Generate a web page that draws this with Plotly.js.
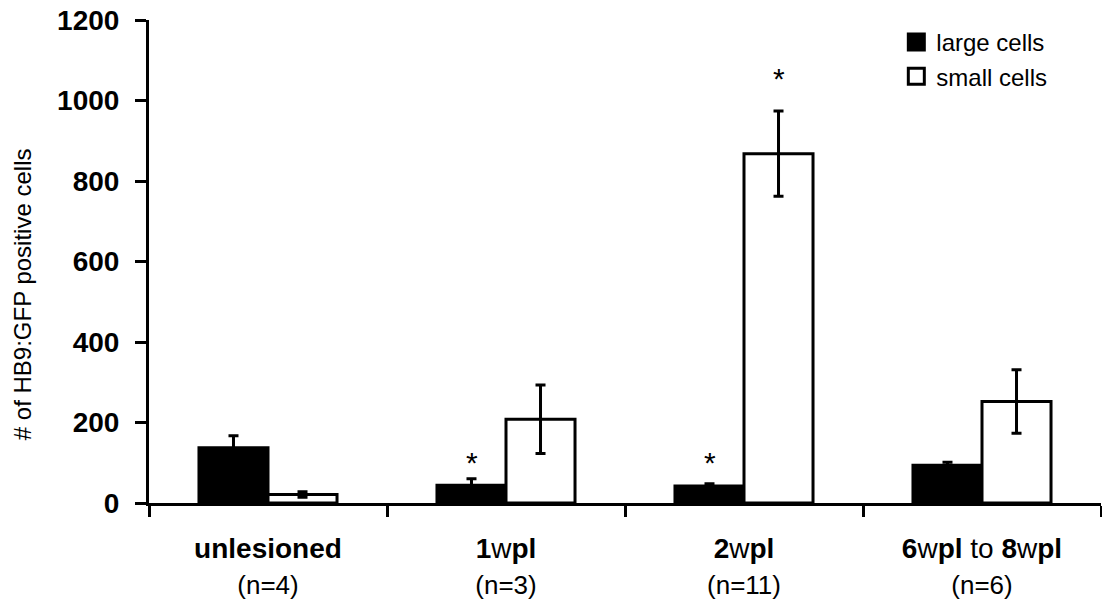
<!DOCTYPE html>
<html>
<head>
<meta charset="utf-8">
<script src="https://cdn.plot.ly/plotly-3.0.1.min.js"></script>
<style>html,body{margin:0;padding:0;background:#fff;}#chart{width:1102px;height:599px;}</style>
</head>
<body>
<div id="chart"></div>
<script>
// Data
const categories = ["unlesioned", "1wpl", "2wpl", "6wpl to 8wpl"];
const tickLabels = [
  "<b>unlesioned</b><br><span style='font-size:26px'>(n=4)</span>",
  "<b>1</b>w<b>pl</b><br><span style='font-size:26px'>(n=3)</span>",
  "<b>2</b>w<b>pl</b><br><span style='font-size:26px'>(n=11)</span>",
  "<b>6</b>w<b>pl</b> to <b>8</b>w<b>pl</b><br><span style='font-size:26px'>(n=6)</span>"
];
const yTickVals = [0, 200, 400, 600, 800, 1000, 1200];
const yTickText = ["<b>0</b>", "<b>200</b>", "<b>400</b>", "<b>600</b>", "<b>800</b>", "<b>1000</b>", "<b>1200</b>"];
const seriesNames = ["large cells", "small cells"];
const largeCells = [137, 44, 42, 94];
const largeErr = [30, 16, 6, 7];
const smallCells = [21, 208, 868, 252];
const smallErr = [7, 85, 106, 79];
// asterisk positions (value units), null = none
const starLarge = [null, 119, 117, null];
const starSmall = [null, null, 1071, null];

const FONT = "Arial, 'Liberation Sans', sans-serif";

const traces = [
  {
    type: "bar", name: seriesNames[0], x: categories, y: largeCells, showlegend: false,
    marker: {color: "#000", line: {color: "#000", width: 3}},
    error_y: {type: "data", array: largeErr, visible: true, color: "#000", thickness: 3, width: 5}
  },
  {
    type: "bar", name: seriesNames[1], x: categories, y: smallCells, showlegend: false,
    marker: {color: "#fff", line: {color: "#000", width: 3}},
    error_y: {type: "data", array: smallErr, visible: true, color: "#000", thickness: 3, width: 5}
  },
  // legend entries (square swatches, no drawn points)
  {
    type: "scatter", mode: "markers", name: seriesNames[0], x: [categories[0]], y: [null], hoverinfo: "skip",
    marker: {symbol: "square", size: 18, color: "#000", line: {color: "#000", width: 3}}
  },
  {
    type: "scatter", mode: "markers", name: seriesNames[1], x: [categories[0]], y: [null], hoverinfo: "skip",
    marker: {symbol: "square", size: 18, color: "#fff", line: {color: "#000", width: 3}}
  }
];

const annotations = [];
const half = 34.5;
categories.forEach((c, i) => {
  if (starLarge[i] !== null) annotations.push({x: c, y: starLarge[i], xref: "x", yref: "y", text: "*", showarrow: false, xshift: -half, yshift: -7, font: {family: FONT, size: 30, color: "#000"}});
  if (starSmall[i] !== null) annotations.push({x: c, y: starSmall[i], xref: "x", yref: "y", text: "*", showarrow: false, xshift: half, yshift: -7, font: {family: FONT, size: 30, color: "#000"}});
});
// y-axis title
annotations.push({
  xref: "paper", yref: "paper", x: -0.132, y: 0.433, xanchor: "center", yanchor: "middle",
  text: "# of HB9:GFP positive cells", textangle: -90, showarrow: false,
  font: {family: FONT, size: 24, color: "#000"}
});

const layout = {
  width: 1102, height: 599,
  margin: {l: 149, r: 1, t: 20, b: 96},
  paper_bgcolor: "#fff", plot_bgcolor: "#fff",
  font: {family: FONT, color: "#000"},
  barmode: "group", bargap: 0.42, bargroupgap: 0,
  showlegend: true,
  legend: {x: 0.785, y: 1.0, xanchor: "left", yanchor: "top", bgcolor: "rgba(0,0,0,0)",
           font: {family: FONT, size: 24, color: "#000"}},
  xaxis: {
    type: "category", range: [-0.5, 3.5], tickmode: "array", tickvals: categories, ticktext: tickLabels,
    tickson: "boundaries", ticks: "outside", ticklen: 11, tickwidth: 3, tickcolor: "#000", ticklabelstandoff: 18,
    showline: true, linewidth: 3, linecolor: "#000", showgrid: false, zeroline: false,
    tickfont: {family: FONT, size: 28, color: "#000"}, automargin: false, fixedrange: true
  },
  yaxis: {
    range: [0, 1200], tickmode: "array", tickvals: yTickVals, ticktext: yTickText,
    ticks: "outside", ticklen: 11, tickwidth: 3, tickcolor: "#000", ticklabelstandoff: 10,
    showline: true, linewidth: 3, linecolor: "#000", showgrid: false, zeroline: false,
    tickfont: {family: FONT, size: 28, color: "#000"}, automargin: false, fixedrange: true
  },
  annotations: annotations
};

Plotly.newPlot("chart", traces, layout, {staticPlot: true, displayModeBar: false});
</script>
</body>
</html>
